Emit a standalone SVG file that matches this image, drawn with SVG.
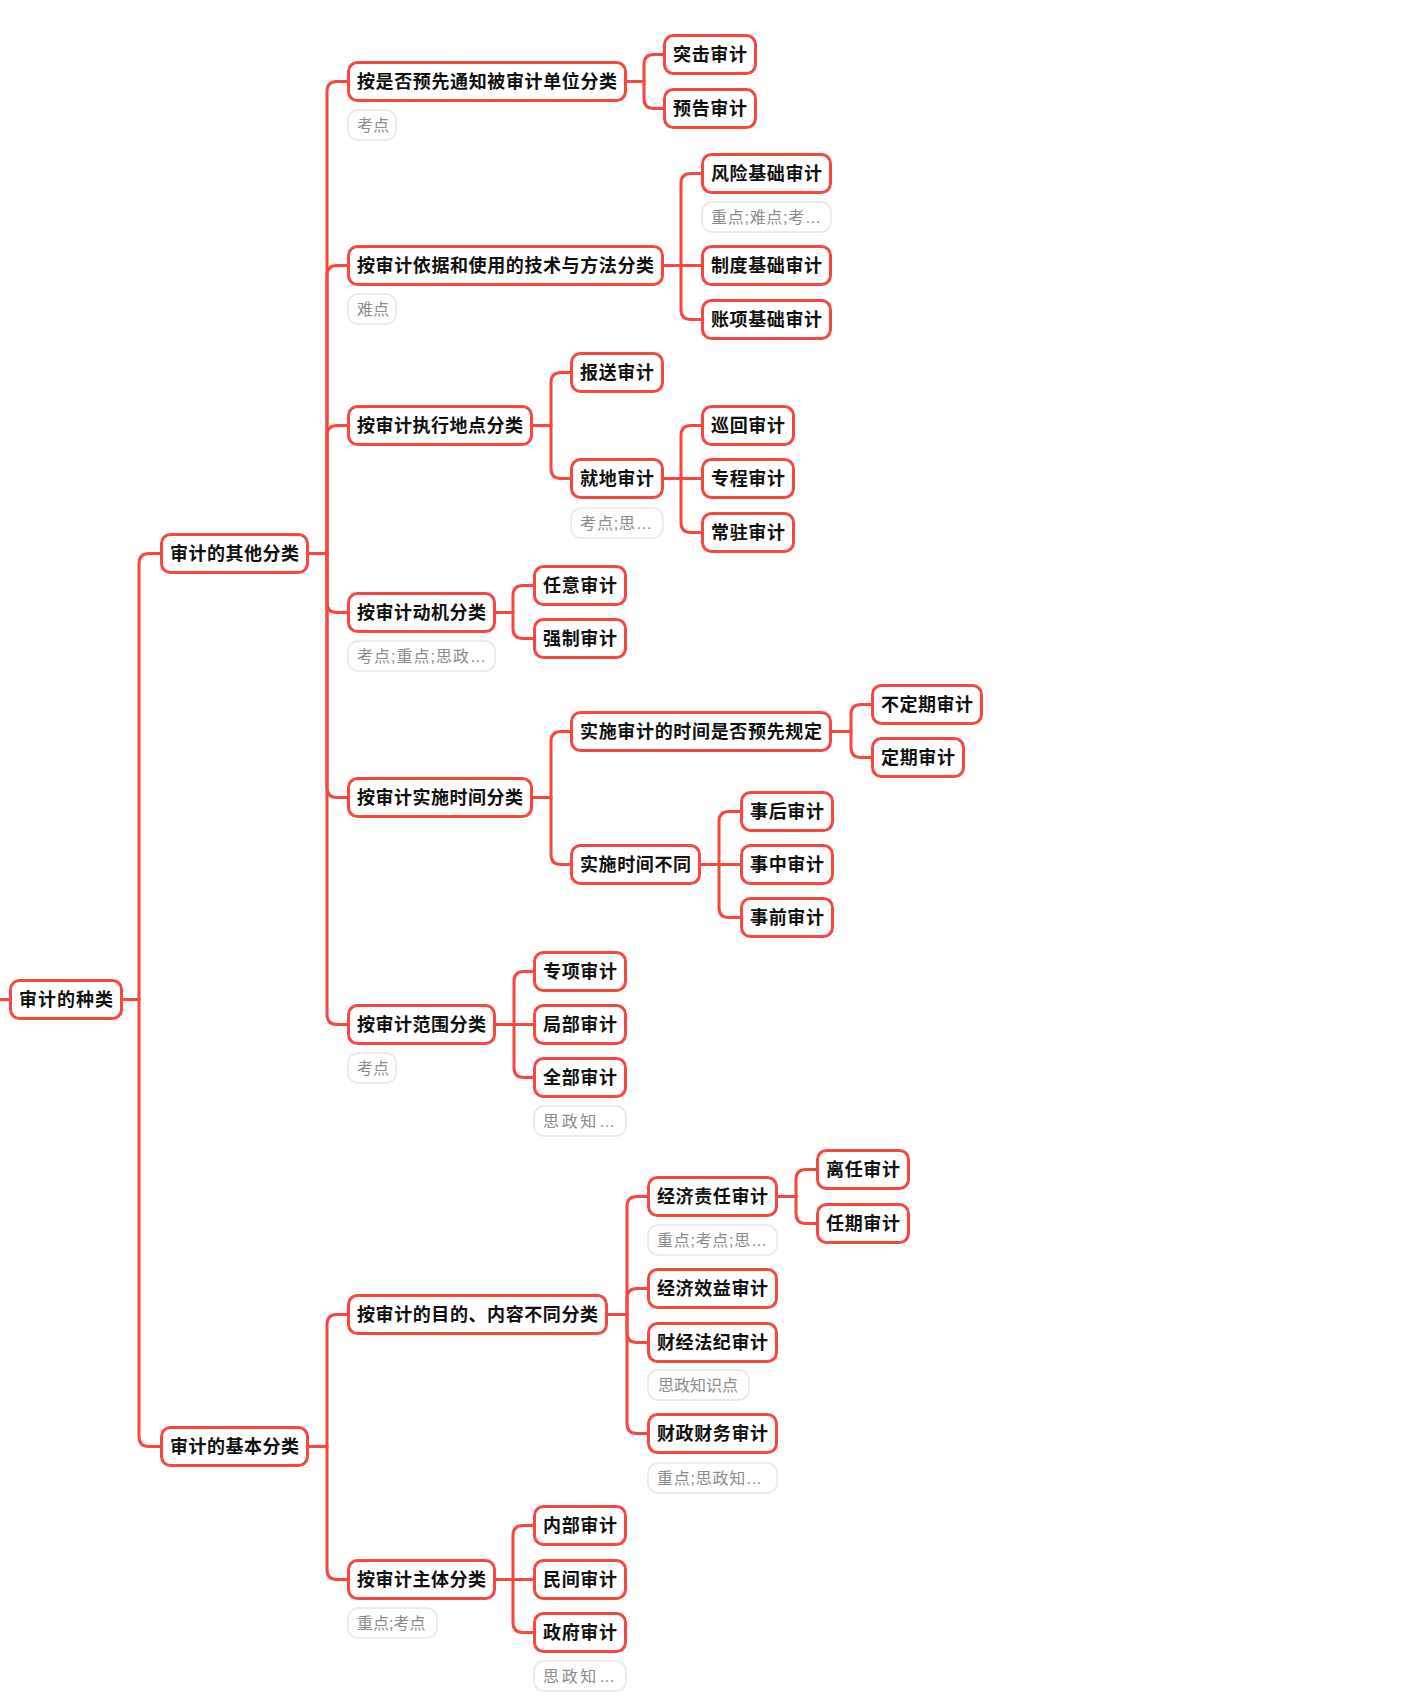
<svg xmlns="http://www.w3.org/2000/svg" width="1416" height="1696" viewBox="0 0 1416 1696">
<style>
.n rect{fill:#fff;stroke:#f7473f;stroke-width:3}
.n text{font-family:"Liberation Sans","Noto Sans CJK SC",sans-serif;font-size:18px;font-weight:bold;fill:#111;text-anchor:middle}
.t rect{fill:#fff;stroke:#e6e6e6;stroke-width:1.5}
.t text{font-family:"Liberation Sans","Noto Sans CJK SC",sans-serif;font-size:16px;fill:#8c8c8c}
#connectors path{fill:none;stroke:#f7473f;stroke-width:3}
</style>
<rect width="1416" height="1696" fill="#fff"/>
<g id="connectors">
<path d="M0 999.5 H10"/>
<path d="M123 999.5 H139 V563.5 Q139 553.5 149 553.5 H160"/>
<path d="M123 999.5 H139 V1436.5 Q139 1446.5 149 1446.5 H160"/>
<path d="M309 553.5 H327 V91.5 Q327 81.5 337 81.5 H347"/>
<path d="M309 553.5 H327 V275.5 Q327 265.5 337 265.5 H347"/>
<path d="M309 553.5 H327 V435.5 Q327 425.5 337 425.5 H347"/>
<path d="M309 553.5 H327 V602.5 Q327 612.5 337 612.5 H347"/>
<path d="M309 553.5 H327 V787.5 Q327 797.5 337 797.5 H347"/>
<path d="M309 553.5 H327 V1014.5 Q327 1024.5 337 1024.5 H347"/>
<path d="M309 1446.5 H327 V1324.5 Q327 1314.5 337 1314.5 H347"/>
<path d="M309 1446.5 H327 V1569.5 Q327 1579.5 337 1579.5 H347"/>
<path d="M627 81.5 H644 V64.5 Q644 54.5 654 54.5 H663"/>
<path d="M627 81.5 H644 V98.5 Q644 108.5 654 108.5 H663"/>
<path d="M664 265.5 H681 V183.5 Q681 173.5 691 173.5 H701"/>
<path d="M664 265.5 H701"/>
<path d="M664 265.5 H681 V309.5 Q681 319.5 691 319.5 H701"/>
<path d="M533 425.5 H551 V382.5 Q551 372.5 561 372.5 H570"/>
<path d="M533 425.5 H551 V468.5 Q551 478.5 561 478.5 H570"/>
<path d="M664 478.5 H681 V435.5 Q681 425.5 691 425.5 H701"/>
<path d="M664 478.5 H701"/>
<path d="M664 478.5 H681 V522.5 Q681 532.5 691 532.5 H701"/>
<path d="M496 612.5 H513 V595.5 Q513 585.5 523 585.5 H533"/>
<path d="M496 612.5 H513 V628.5 Q513 638.5 523 638.5 H533"/>
<path d="M533 797.5 H551 V741.5 Q551 731.5 561 731.5 H570"/>
<path d="M533 797.5 H551 V854.5 Q551 864.5 561 864.5 H570"/>
<path d="M832 731.5 H851 V714.5 Q851 704.5 861 704.5 H871"/>
<path d="M832 731.5 H851 V747.5 Q851 757.5 861 757.5 H871"/>
<path d="M701 864.5 H719 V821.5 Q719 811.5 729 811.5 H740"/>
<path d="M701 864.5 H740"/>
<path d="M701 864.5 H719 V907.5 Q719 917.5 729 917.5 H740"/>
<path d="M496 1024.5 H514 V981.5 Q514 971.5 524 971.5 H533"/>
<path d="M496 1024.5 H533"/>
<path d="M496 1024.5 H514 V1067.5 Q514 1077.5 524 1077.5 H533"/>
<path d="M608 1314.5 H627 V1206.5 Q627 1196.5 637 1196.5 H647"/>
<path d="M608 1314.5 H627 V1298.5 Q627 1288.5 637 1288.5 H647"/>
<path d="M608 1314.5 H627 V1332.5 Q627 1342.5 637 1342.5 H647"/>
<path d="M608 1314.5 H627 V1423.5 Q627 1433.5 637 1433.5 H647"/>
<path d="M778 1196.5 H796 V1179.5 Q796 1169.5 806 1169.5 H816"/>
<path d="M778 1196.5 H796 V1213.5 Q796 1223.5 806 1223.5 H816"/>
<path d="M496 1579.5 H513 V1535.5 Q513 1525.5 523 1525.5 H533"/>
<path d="M496 1579.5 H533"/>
<path d="M496 1579.5 H513 V1622.5 Q513 1632.5 523 1632.5 H533"/>
</g>
<g id="root" class="n"><rect x="10.5" y="980.5" width="111" height="38" rx="9"/><text x="66" y="1006" textLength="94">审计的种类</text></g>
<g id="n-qita" class="n"><rect x="161.5" y="534.5" width="146" height="38" rx="9"/><text x="234.5" y="560" textLength="129">审计的其他分类</text></g>
<g id="n-jiben" class="n"><rect x="161.5" y="1427.5" width="146" height="38" rx="9"/><text x="234.5" y="1453" textLength="129">审计的基本分类</text></g>

<g id="n-tongzhi" class="n"><rect x="348.5" y="62.5" width="277" height="38" rx="9"/><text x="487" y="88" textLength="260">按是否预先通知被审计单位分类</text></g>
<g id="tag-tongzhi" class="t"><rect x="348" y="110" width="48" height="30" rx="10"/><text x="357" y="130.5">考点</text></g>
<g id="n-yiju" class="n"><rect x="348.5" y="246.5" width="314" height="38" rx="9"/><text x="505.5" y="272" textLength="297">按审计依据和使用的技术与方法分类</text></g>
<g id="tag-yiju" class="t"><rect x="348" y="294" width="48" height="30" rx="10"/><text x="357" y="314.5">难点</text></g>
<g id="n-didian" class="n"><rect x="348.5" y="406.5" width="183" height="38" rx="9"/><text x="440" y="432" textLength="166">按审计执行地点分类</text></g>
<g id="n-dongji" class="n"><rect x="348.5" y="593.5" width="146" height="38" rx="9"/><text x="421.5" y="619" textLength="129">按审计动机分类</text></g>
<g id="tag-dongji" class="t"><rect x="348" y="641" width="147" height="30" rx="10"/><text x="357" y="661.5" textLength="129">考点;重点;思政…</text></g>
<g id="n-shijian" class="n"><rect x="348.5" y="778.5" width="183" height="38" rx="9"/><text x="440" y="804" textLength="166">按审计实施时间分类</text></g>
<g id="n-fanwei" class="n"><rect x="348.5" y="1005.5" width="146" height="38" rx="9"/><text x="421.5" y="1031" textLength="129">按审计范围分类</text></g>
<g id="tag-fanwei" class="t"><rect x="348" y="1053" width="48" height="30" rx="10"/><text x="357" y="1073.5">考点</text></g>
<g id="n-mudi" class="n"><rect x="348.5" y="1295.5" width="258" height="38" rx="9"/><text x="477.5" y="1321" textLength="241">按审计的目的、内容不同分类</text></g>
<g id="n-zhuti" class="n"><rect x="348.5" y="1560.5" width="146" height="38" rx="9"/><text x="421.5" y="1586" textLength="129">按审计主体分类</text></g>
<g id="tag-zhuti" class="t"><rect x="348" y="1608" width="89" height="30" rx="10"/><text x="357" y="1628.5">重点;考点</text></g>

<g id="n-tuji" class="n"><rect x="664.5" y="35.5" width="91" height="38" rx="9"/><text x="710" y="61" textLength="74">突击审计</text></g>
<g id="n-yugao" class="n"><rect x="664.5" y="89.5" width="91" height="38" rx="9"/><text x="710" y="115" textLength="74">预告审计</text></g>
<g id="n-fengxian" class="n"><rect x="702.5" y="154.5" width="128" height="38" rx="9"/><text x="766.5" y="180" textLength="111">风险基础审计</text></g>
<g id="tag-fengxian" class="t"><rect x="702" y="202" width="129" height="30" rx="10"/><text x="711" y="222.5" textLength="110">重点;难点;考…</text></g>
<g id="n-zhidu" class="n"><rect x="702.5" y="246.5" width="128" height="38" rx="9"/><text x="766.5" y="272" textLength="111">制度基础审计</text></g>
<g id="n-zhangxiang" class="n"><rect x="702.5" y="300.5" width="128" height="38" rx="9"/><text x="766.5" y="326" textLength="111">账项基础审计</text></g>
<g id="n-baosong" class="n"><rect x="571.5" y="353.5" width="91" height="38" rx="9"/><text x="617" y="379" textLength="74">报送审计</text></g>
<g id="n-jiudi" class="n"><rect x="571.5" y="459.5" width="91" height="38" rx="9"/><text x="617" y="485" textLength="74">就地审计</text></g>
<g id="tag-jiudi" class="t"><rect x="571" y="508" width="92" height="30" rx="10"/><text x="580" y="528.5" textLength="72">考点;思…</text></g>
<g id="n-xunhui" class="n"><rect x="702.5" y="406.5" width="91" height="38" rx="9"/><text x="748" y="432" textLength="74">巡回审计</text></g>
<g id="n-zhuancheng" class="n"><rect x="702.5" y="459.5" width="91" height="38" rx="9"/><text x="748" y="485" textLength="74">专程审计</text></g>
<g id="n-changzhu" class="n"><rect x="702.5" y="513.5" width="91" height="38" rx="9"/><text x="748" y="539" textLength="74">常驻审计</text></g>
<g id="n-renyi" class="n"><rect x="534.5" y="566.5" width="91" height="38" rx="9"/><text x="580" y="592" textLength="74">任意审计</text></g>
<g id="n-qiangzhi" class="n"><rect x="534.5" y="619.5" width="91" height="38" rx="9"/><text x="580" y="645" textLength="74">强制审计</text></g>
<g id="n-yuxian" class="n"><rect x="571.5" y="712.5" width="259" height="38" rx="9"/><text x="701" y="738" textLength="242">实施审计的时间是否预先规定</text></g>
<g id="n-budingqi" class="n"><rect x="872.5" y="685.5" width="109" height="38" rx="9"/><text x="927" y="711" textLength="92">不定期审计</text></g>
<g id="n-dingqi" class="n"><rect x="872.5" y="738.5" width="91" height="38" rx="9"/><text x="918" y="764" textLength="74">定期审计</text></g>
<g id="n-butong" class="n"><rect x="571.5" y="845.5" width="128" height="38" rx="9"/><text x="635.5" y="871" textLength="111">实施时间不同</text></g>
<g id="n-shihou" class="n"><rect x="741.5" y="792.5" width="91" height="38" rx="9"/><text x="787" y="818" textLength="74">事后审计</text></g>
<g id="n-shizhong" class="n"><rect x="741.5" y="845.5" width="91" height="38" rx="9"/><text x="787" y="871" textLength="74">事中审计</text></g>
<g id="n-shiqian" class="n"><rect x="741.5" y="898.5" width="91" height="38" rx="9"/><text x="787" y="924" textLength="74">事前审计</text></g>
<g id="n-zhuanxiang" class="n"><rect x="534.5" y="952.5" width="91" height="38" rx="9"/><text x="580" y="978" textLength="74">专项审计</text></g>
<g id="n-jubu" class="n"><rect x="534.5" y="1005.5" width="91" height="38" rx="9"/><text x="580" y="1031" textLength="74">局部审计</text></g>
<g id="n-quanbu" class="n"><rect x="534.5" y="1058.5" width="91" height="38" rx="9"/><text x="580" y="1084" textLength="74">全部审计</text></g>
<g id="tag-quanbu" class="t"><rect x="534" y="1106" width="92" height="30" rx="10"/><text x="543" y="1126.5" textLength="72">思政知…</text></g>
<g id="n-zeren" class="n"><rect x="648.5" y="1177.5" width="128" height="38" rx="9"/><text x="712.5" y="1203" textLength="111">经济责任审计</text></g>
<g id="tag-zeren" class="t"><rect x="648" y="1225" width="129" height="30" rx="10"/><text x="657" y="1245.5" textLength="110">重点;考点;思…</text></g>
<g id="n-liren" class="n"><rect x="817.5" y="1150.5" width="91" height="38" rx="9"/><text x="863" y="1176" textLength="74">离任审计</text></g>
<g id="n-renqi" class="n"><rect x="817.5" y="1204.5" width="91" height="38" rx="9"/><text x="863" y="1230" textLength="74">任期审计</text></g>
<g id="n-xiaoyi" class="n"><rect x="648.5" y="1269.5" width="128" height="38" rx="9"/><text x="712.5" y="1295" textLength="111">经济效益审计</text></g>
<g id="n-fajì" class="n"><rect x="648.5" y="1323.5" width="128" height="38" rx="9"/><text x="712.5" y="1349" textLength="111">财经法纪审计</text></g>
<g id="tag-faji" class="t"><rect x="648" y="1370" width="101" height="30" rx="10"/><text x="658" y="1390.5">思政知识点</text></g>
<g id="n-caizheng" class="n"><rect x="648.5" y="1414.5" width="128" height="38" rx="9"/><text x="712.5" y="1440" textLength="111">财政财务审计</text></g>
<g id="tag-caizheng" class="t"><rect x="648" y="1463" width="129" height="30" rx="10"/><text x="657" y="1483.5" textLength="105">重点;思政知…</text></g>
<g id="n-neibu" class="n"><rect x="534.5" y="1506.5" width="91" height="38" rx="9"/><text x="580" y="1532" textLength="74">内部审计</text></g>
<g id="n-minjian" class="n"><rect x="534.5" y="1560.5" width="91" height="38" rx="9"/><text x="580" y="1586" textLength="74">民间审计</text></g>
<g id="n-zhengfu" class="n"><rect x="534.5" y="1613.5" width="91" height="38" rx="9"/><text x="580" y="1639" textLength="74">政府审计</text></g>
<g id="tag-zhengfu" class="t"><rect x="534" y="1661" width="92" height="30" rx="10"/><text x="543" y="1681.5" textLength="72">思政知…</text></g>
</svg>
